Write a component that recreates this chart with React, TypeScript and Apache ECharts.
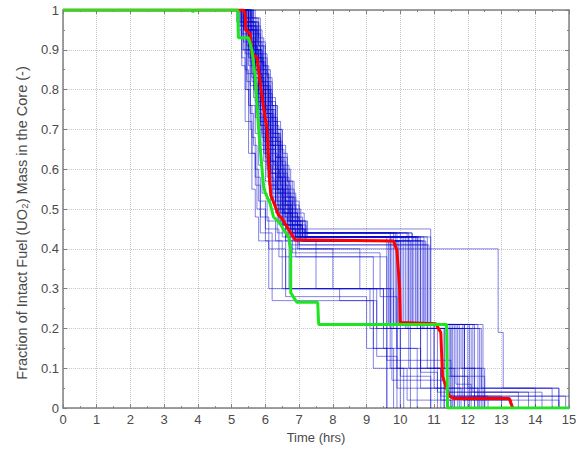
import React, { useEffect, useRef } from "react";
import * as echarts from "echarts";

type Pt = [number, number];

const xTicks = [0, 1, 2, 3, 4, 5, 6, 7, 8, 9, 10, 11, 12, 13, 14, 15];
const yTicks = [0, 0.1, 0.2, 0.3, 0.4, 0.5, 0.6, 0.7, 0.8, 0.9, 1];

const redCurve: Pt[] = [
  [0, 1], [5.35, 1], [5.4, 0.99], [5.42, 0.95], [5.55, 0.94], [5.6, 0.89], [5.75, 0.88],
  [5.92, 0.77], [6.05, 0.7], [6.12, 0.58], [6.16, 0.535], [6.39, 0.485], [6.5, 0.475],
  [6.69, 0.448], [6.75, 0.44], [6.88, 0.423], [9.8, 0.42], [9.9, 0.395], [9.98, 0.3],
  [10.0, 0.215], [11.05, 0.212], [11.2, 0.19], [11.25, 0.08], [11.45, 0.03], [11.6, 0.024],
  [13.23, 0.024], [13.33, 0],
];

const greenCurve: Pt[] = [
  [0, 1], [3.8, 1], [3.85, 0.996], [3.9, 1], [5.18, 1], [5.2, 0.93], [5.5, 0.93], [5.6, 0.9],
  [5.7, 0.83], [5.8, 0.7], [5.9, 0.6], [5.95, 0.555], [6.0, 0.54], [6.14, 0.514], [6.24, 0.48],
  [6.44, 0.464], [6.54, 0.448], [6.69, 0.43], [6.75, 0.4], [6.75, 0.29], [6.93, 0.266],
  [7.55, 0.266], [7.58, 0.21], [11.37, 0.21], [11.4, 0], [15, 0],
];

// Monte Carlo realisations (step changes: [time, new fraction])
const blue01: Pt[] = [[0,1],[5.3,0.98],[5.5,0.92],[5.65,0.85],[5.8,0.78],[5.95,0.7],[6.1,0.62],[6.25,0.55],[6.45,0.49],[6.65,0.45],[6.9,0.43],[9.7,0.2],[11.5,0.03],[12.6,0]];
const blue02: Pt[] = [[0,1],[5.4,0.96],[5.6,0.9],[5.8,0.82],[5.95,0.74],[6.15,0.66],[6.3,0.58],[6.5,0.51],[6.7,0.47],[7.0,0.43],[10.1,0.21],[11.9,0]];
const blue03: Pt[] = [[0,1],[5.5,0.97],[5.7,0.9],[5.85,0.83],[6.0,0.75],[6.2,0.67],[6.4,0.59],[6.55,0.52],[6.75,0.47],[7.05,0.42],[9.9,0.1],[11.2,0.02],[14.7,0]];
const blue04: Pt[] = [[0,1],[5.35,0.95],[5.55,0.88],[5.7,0.8],[5.85,0.72],[6.0,0.64],[6.15,0.57],[6.3,0.51],[6.5,0.46],[6.8,0.43],[10.5,0.21],[12.2,0]];
const blue05: Pt[] = [[0,1],[5.6,0.96],[5.75,0.88],[5.95,0.8],[6.1,0.72],[6.3,0.63],[6.5,0.55],[6.7,0.49],[6.9,0.45],[7.2,0.42],[10.6,0.2],[12.4,0.05],[14.7,0]];
const blue06: Pt[] = [[0,1],[5.25,0.97],[5.45,0.9],[5.6,0.82],[5.75,0.74],[5.9,0.66],[6.05,0.58],[6.25,0.51],[6.4,0.46],[6.6,0.43],[9.6,0.2],[10.9,0]];
const blue07: Pt[] = [[0,1],[5.45,0.95],[5.65,0.87],[5.8,0.79],[6.0,0.7],[6.15,0.62],[6.35,0.55],[6.55,0.49],[6.75,0.44],[7.0,0.4],[12.9,0.19],[13.05,0.05],[14.7,0]];
const blue08: Pt[] = [[0,1],[5.3,0.94],[5.5,0.86],[5.65,0.78],[5.8,0.7],[5.95,0.62],[6.15,0.55],[6.3,0.5],[6.5,0.45],[6.7,0.41],[10.8,0.2],[11.8,0.1],[12.5,0]];
const blue09: Pt[] = [[0,1],[5.2,0.96],[5.35,0.9],[5.45,0.82],[5.55,0.74],[5.65,0.66],[5.75,0.58],[5.85,0.5],[6.0,0.42],[6.5,0.3],[9.5,0.2],[10.3,0]];
const blue10: Pt[] = [[0,1],[5.3,0.93],[5.4,0.85],[5.5,0.76],[5.6,0.68],[5.7,0.6],[5.8,0.52],[6.0,0.45],[6.4,0.38],[9.2,0.1],[10.2,0.02],[11.5,0]];
const blue11: Pt[] = [[0,1],[5.5,0.95],[5.7,0.88],[5.9,0.81],[6.05,0.73],[6.2,0.65],[6.4,0.57],[6.55,0.51],[6.8,0.46],[7.1,0.43],[10.4,0.21],[11.4,0.08],[12.0,0]];
const blue12: Pt[] = [[0,1],[5.4,0.97],[5.55,0.91],[5.75,0.84],[5.9,0.77],[6.05,0.69],[6.25,0.61],[6.4,0.54],[6.6,0.48],[6.85,0.42],[9.95,0.21],[11.0,0.05],[14.0,0]];
const blue13: Pt[] = [[0,1],[5.35,0.96],[5.5,0.9],[5.7,0.83],[5.85,0.75],[6.0,0.67],[6.2,0.59],[6.35,0.52],[6.55,0.46],[6.75,0.4],[8.0,0.3],[9.3,0.2],[9.6,0]];
const blue14: Pt[] = [[0,1],[5.45,0.98],[5.65,0.92],[5.85,0.85],[6.0,0.78],[6.15,0.7],[6.35,0.62],[6.5,0.55],[6.7,0.49],[6.95,0.44],[10.2,0.2],[12.1,0.03],[15,0.03]];
const blue15: Pt[] = [[0,1],[5.55,0.97],[5.75,0.9],[5.9,0.82],[6.1,0.74],[6.25,0.66],[6.45,0.58],[6.6,0.51],[6.8,0.46],[7.05,0.43],[10.7,0.2],[11.3,0.1],[11.7,0]];
const blue16: Pt[] = [[0,1],[5.15,0.97],[5.3,0.88],[5.4,0.8],[5.5,0.72],[5.6,0.64],[5.7,0.56],[5.85,0.48],[6.1,0.4],[6.6,0.28],[9.0,0.15],[9.8,0]];
const blue17: Pt[] = [[0,1],[5.3,0.96],[5.45,0.9],[5.6,0.83],[5.75,0.76],[5.9,0.68],[6.05,0.6],[6.2,0.53],[6.4,0.47],[6.6,0.42],[7.5,0.3],[9.7,0.1],[10.1,0]];
const blue18: Pt[] = [[0,1],[5.6,0.95],[5.8,0.87],[5.95,0.79],[6.1,0.71],[6.3,0.63],[6.45,0.56],[6.65,0.5],[6.85,0.45],[7.15,0.43],[10.55,0.21],[12.0,0.05],[12.3,0]];
const blue19: Pt[] = [[0,1],[5.4,0.97],[5.6,0.91],[5.75,0.84],[5.9,0.76],[6.05,0.68],[6.2,0.6],[6.4,0.53],[6.6,0.47],[6.8,0.43],[9.75,0.07],[11.3,0]];
const blue20: Pt[] = [[0,1],[5.5,0.96],[5.65,0.89],[5.8,0.81],[5.95,0.73],[6.1,0.65],[6.3,0.57],[6.45,0.5],[6.65,0.45],[6.9,0.42],[10.3,0.2],[11.1,0.04],[13.5,0]];
const blue21: Pt[] = [[0,1],[5.35,0.95],[5.5,0.88],[5.65,0.8],[5.8,0.72],[5.95,0.64],[6.1,0.56],[6.3,0.49],[6.5,0.43],[6.8,0.39],[9.4,0.28],[9.9,0.15],[10.5,0]];
const blue22: Pt[] = [[0,1],[5.45,0.96],[5.6,0.9],[5.8,0.82],[5.95,0.74],[6.1,0.66],[6.3,0.58],[6.5,0.51],[6.7,0.46],[6.95,0.43],[10.05,0.21],[11.5,0.08],[12.5,0]];
const blue23: Pt[] = [[0,1],[5.25,0.96],[5.4,0.89],[5.55,0.81],[5.7,0.73],[5.85,0.65],[6.0,0.57],[6.15,0.5],[6.35,0.44],[6.6,0.3],[9.1,0.2],[9.9,0.05],[11.8,0]];
const blue24: Pt[] = [[0,1],[5.55,0.96],[5.7,0.89],[5.9,0.82],[6.05,0.74],[6.2,0.66],[6.4,0.58],[6.6,0.52],[6.8,0.46],[7.1,0.42],[10.75,0.21],[12.3,0]];
const blue25: Pt[] = [[0,1],[5.3,0.97],[5.45,0.91],[5.6,0.84],[5.75,0.77],[5.9,0.69],[6.05,0.61],[6.2,0.54],[6.4,0.48],[6.65,0.44],[10.0,0.21],[11.45,0.03],[13.0,0]];
const blue26: Pt[] = [[0,1],[5.4,0.95],[5.55,0.87],[5.7,0.79],[5.85,0.71],[6.0,0.63],[6.15,0.56],[6.35,0.5],[6.55,0.46],[6.8,0.43],[10.9,0.2],[11.3,0]];
const blue27: Pt[] = [[0,1],[5.5,0.97],[5.7,0.91],[5.85,0.84],[6.0,0.76],[6.15,0.68],[6.35,0.6],[6.5,0.53],[6.7,0.47],[6.95,0.4],[8.8,0.3],[9.8,0.2],[10.0,0]];
const blue28: Pt[] = [[0,1],[5.35,0.97],[5.5,0.92],[5.7,0.85],[5.85,0.77],[6.0,0.7],[6.15,0.62],[6.3,0.55],[6.5,0.49],[6.75,0.44],[9.8,0.21],[10.6,0.1],[11.2,0]];
const blue29: Pt[] = [[0,1],[5.2,0.95],[5.3,0.86],[5.4,0.72],[5.5,0.64],[5.6,0.55],[5.7,0.48],[5.8,0.42],[6.1,0.3],[8.2,0.27],[9.2,0.15],[9.6,0]];
const blue30: Pt[] = [[0,1],[5.45,0.97],[5.65,0.9],[5.8,0.83],[5.95,0.75],[6.1,0.67],[6.3,0.59],[6.45,0.52],[6.65,0.47],[6.9,0.43],[10.45,0.21],[11.9,0.05],[14.5,0]];
const blue31: Pt[] = [[0,1],[5.6,0.98],[5.8,0.91],[6.0,0.84],[6.1,0.76],[6.25,0.68],[6.45,0.6],[6.6,0.53],[6.8,0.47],[7.2,0.42],[10.65,0.2],[11.4,0]];
const blue32: Pt[] = [[0,1],[5.3,0.97],[5.5,0.91],[5.65,0.83],[5.8,0.75],[5.95,0.67],[6.1,0.59],[6.3,0.52],[6.45,0.46],[6.7,0.42],[9.65,0.21],[11.0,0.1],[11.6,0]];
const blue33: Pt[] = [[0,1],[5.5,0.95],[5.65,0.88],[5.8,0.8],[6.0,0.72],[6.15,0.64],[6.35,0.56],[6.5,0.5],[6.75,0.45],[7.0,0.41],[10.85,0.21],[12.45,0]];
const blue34: Pt[] = [[0,1],[5.4,0.96],[5.55,0.89],[5.7,0.81],[5.85,0.73],[6.0,0.65],[6.2,0.57],[6.35,0.51],[6.55,0.46],[6.85,0.43],[10.25,0.1],[11.2,0.03],[14.9,0]];
const blue35: Pt[] = [[0,1],[5.35,0.98],[5.55,0.92],[5.7,0.85],[5.85,0.78],[6.0,0.7],[6.2,0.62],[6.35,0.55],[6.55,0.49],[6.8,0.44],[10.35,0.21],[11.7,0.1],[12.2,0]];
const blue36: Pt[] = [[0,1],[5.55,0.98],[5.75,0.92],[5.9,0.85],[6.05,0.77],[6.2,0.69],[6.4,0.61],[6.55,0.54],[6.75,0.48],[7.0,0.44],[9.85,0.21],[11.85,0.02],[13.3,0]];
const blue37: Pt[] = [[0,1],[5.55,0.97],[5.8,0.93],[5.95,0.86],[6.1,0.79],[6.2,0.72],[6.35,0.66],[6.5,0.59],[6.65,0.53],[6.85,0.48],[7.1,0.44],[9.7,0.21],[11.6,0]];
const blue38: Pt[] = [[0,1],[5.6,0.94],[5.85,0.87],[6.0,0.81],[6.15,0.75],[6.3,0.69],[6.45,0.62],[6.6,0.56],[6.75,0.5],[6.95,0.46],[7.2,0.43],[10.15,0.2],[12.35,0]];
const blue39: Pt[] = [[0,1],[5.5,0.95],[5.7,0.9],[5.9,0.86],[6.05,0.8],[6.2,0.73],[6.35,0.67],[6.5,0.61],[6.7,0.55],[6.85,0.5],[7.05,0.45],[10.9,0.21],[11.55,0]];
const blue40: Pt[] = [[0,1],[5.65,0.96],[5.85,0.89],[6.05,0.83],[6.2,0.76],[6.35,0.7],[6.5,0.64],[6.65,0.57],[6.8,0.52],[7.0,0.47],[7.25,0.43],[10.6,0.09],[11.1,0]];
const blue41: Pt[] = [[0,1],[5.45,0.93],[5.7,0.86],[5.85,0.8],[6.0,0.74],[6.15,0.68],[6.3,0.63],[6.45,0.57],[6.6,0.52],[6.8,0.48],[7.0,0.44],[9.9,0.21],[12.05,0]];
const blue42: Pt[] = [[0,1],[5.5,0.96],[5.75,0.87],[5.95,0.8],[6.15,0.73],[6.3,0.67],[6.45,0.6],[6.6,0.54],[6.75,0.49],[6.95,0.45],[7.15,0.42],[10.7,0.21],[11.65,0.06],[12.1,0]];
const blue43: Pt[] = [[0,1],[5.6,0.97],[5.8,0.91],[5.95,0.84],[6.1,0.77],[6.3,0.71],[6.4,0.65],[6.55,0.58],[6.7,0.53],[6.9,0.47],[7.1,0.43],[10.5,0.2],[11.9,0.1],[12.4,0]];
const blue44: Pt[] = [[0,1],[5.35,0.92],[5.55,0.84],[5.7,0.77],[5.85,0.71],[6.0,0.65],[6.15,0.59],[6.3,0.54],[6.5,0.49],[6.7,0.45],[6.9,0.38],[9.6,0.12],[11.5,0]];
const blue45: Pt[] = [[0,1],[5.7,0.95],[5.9,0.88],[6.05,0.82],[6.2,0.76],[6.35,0.7],[6.5,0.63],[6.65,0.57],[6.85,0.51],[7.0,0.47],[7.2,0.44],[10.35,0.21],[11.75,0]];
const blue46: Pt[] = [[0,1],[5.55,0.95],[5.75,0.88],[5.9,0.81],[6.1,0.75],[6.25,0.69],[6.4,0.63],[6.55,0.57],[6.7,0.51],[6.9,0.46],[7.1,0.43],[10.8,0.1],[11.4,0.04],[13.8,0]];
const blue47: Pt[] = [[0,1],[5.4,0.93],[5.6,0.86],[5.8,0.79],[5.95,0.72],[6.1,0.66],[6.25,0.6],[6.4,0.54],[6.6,0.5],[6.8,0.46],[7.05,0.42],[10.0,0.08],[10.9,0]];
const blue48: Pt[] = [[0,1],[5.65,0.98],[5.85,0.92],[6.0,0.85],[6.15,0.78],[6.3,0.72],[6.45,0.66],[6.6,0.6],[6.75,0.54],[6.9,0.49],[7.15,0.44],[10.25,0.21],[12.15,0.04],[14.2,0]];
const blue49: Pt[] = [[0,1],[5.3,0.9],[5.45,0.8],[5.55,0.7],[5.6,0.64],[5.7,0.58],[5.75,0.5],[5.85,0.44],[6.2,0.27],[9.3,0.13],[9.9,0]];
const blue50: Pt[] = [[0,1],[5.25,0.93],[5.45,0.84],[5.55,0.76],[5.7,0.69],[5.8,0.61],[5.9,0.54],[6.05,0.47],[6.3,0.42],[6.7,0.3],[9.5,0.15],[10.6,0.05],[11.9,0]];

const blueCurves: Pt[][] = [
  blue01, blue02, blue03, blue04, blue05, blue06, blue07, blue08, blue09, blue10,
  blue11, blue12, blue13, blue14, blue15, blue16, blue17, blue18, blue19, blue20,
  blue21, blue22, blue23, blue24, blue25, blue26, blue27, blue28, blue29, blue30,
  blue31, blue32, blue33, blue34, blue35, blue36, blue37, blue38, blue39, blue40,
  blue41, blue42, blue43, blue44, blue45, blue46, blue47, blue48, blue49, blue50,
];

const xName = "Time (hrs)";
const yName = "Fraction of Intact Fuel (UO₂) Mass in the Core (-)";

export default function App() {
  const ref = useRef<HTMLDivElement>(null);
  useEffect(() => {
    if (!ref.current) return;
    const chart = echarts.init(ref.current, undefined, { renderer: "svg" });
    const font = "Liberation Sans, Arial, sans-serif";
    const frame = "#808080";
    const textColor = "#4a4a4a";
    const baseX = {
      type: "value" as const,
      min: xTicks[0],
      max: xTicks[xTicks.length - 1],
      interval: 1,
    };
    const baseY = {
      type: "value" as const,
      min: yTicks[0],
      max: yTicks[yTicks.length - 1],
      interval: 0.1,
    };
    const tickCommon = {
      axisLine: { show: true, onZero: false, lineStyle: { color: frame, width: 1.5 } },
      axisTick: { show: true, inside: true, length: 4, lineStyle: { color: frame } },
      minorTick: { show: true, splitNumber: 2, length: 2, lineStyle: { color: frame } },
    };
    const series: any[] = blueCurves.map((c, i) => ({
      name: "run" + (i + 1),
      type: "line",
      step: "end",
      data: c,
      showSymbol: false,
      symbol: "none",
      silent: true,
      lineStyle: { color: "rgba(10,10,210,0.5)", width: 1 },
      z: 2,
    }));
    series.push({
      name: "red",
      type: "line",
      data: redCurve,
      symbol: "none",
      lineStyle: { color: "#ff0000", width: 3 },
      z: 3,
    });
    series.push({
      name: "green",
      type: "line",
      data: greenCurve,
      symbol: "none",
      lineStyle: { color: "#1ee61e", width: 3 },
      z: 4,
    });
    chart.setOption({
      animation: false,
      backgroundColor: "#ffffff",
      grid: { left: 63, right: 15, top: 10, bottom: 40, show: false },
      graphic: [
        {
          type: "text",
          x: 22,
          y: 223,
          rotation: Math.PI / 2,
          style: {
            text: yName,
            fill: textColor,
            font: "14.5px Liberation Sans, Arial, sans-serif",
            align: "center",
            verticalAlign: "middle",
          },
        },
      ],
      xAxis: [
        {
          ...baseX,
          position: "bottom",
          ...tickCommon,
          axisLabel: { color: textColor, fontSize: 13, fontFamily: font, margin: 5 },
          splitLine: { show: true, lineStyle: { color: "#c8c8c8", type: "dotted" } },
          name: xName,
          nameLocation: "middle",
          nameGap: 22,
          nameTextStyle: { color: textColor, fontSize: 13, fontFamily: font },
        },
        {
          ...baseX,
          position: "top",
          ...tickCommon,
          axisLabel: { show: false },
          splitLine: { show: false },
        },
      ],
      yAxis: [
        {
          ...baseY,
          position: "left",
          ...tickCommon,
          axisLabel: {
            color: textColor,
            fontSize: 13,
            fontFamily: font,
            margin: 4,
            formatter: (v: number) => String(Math.round(v * 10) / 10),
          },
          splitLine: { show: true, lineStyle: { color: "#c8c8c8", type: "dotted" } },
        },
        {
          ...baseY,
          position: "right",
          ...tickCommon,
          axisLabel: { show: false },
          splitLine: { show: false },
        },
      ],
      series,
    });
    return () => chart.dispose();
  }, []);
  return (
    <div
      ref={ref}
      style={{ position: "fixed", left: 0, top: 0, width: 584, height: 449, background: "#fff" }}
    />
  );
}
